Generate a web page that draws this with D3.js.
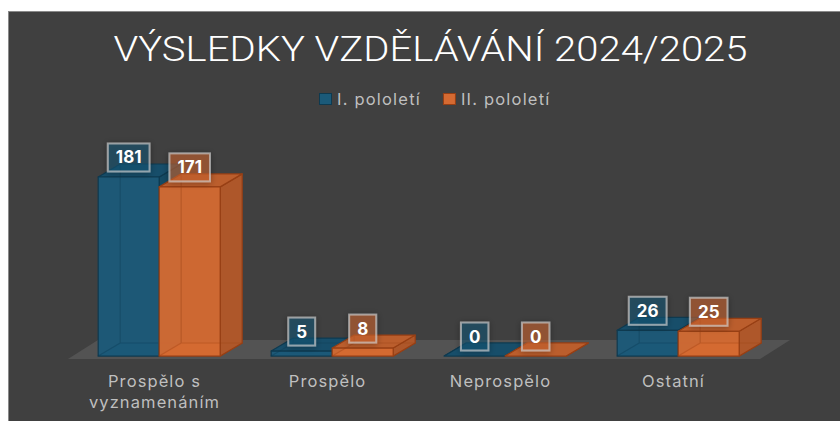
<!doctype html>
<html>
<head>
<meta charset="utf-8">
<script src="https://cdn.jsdelivr.net/npm/d3@7"></script>
<style>
html,body{margin:0;background:#fff;overflow:hidden;}
text{font-family:Inter,"Open Sans",sans-serif;}
</style>
</head>
<body>
<script>
var categories = ["Prospělo s vyznamenáním", "Prospělo", "Neprospělo", "Ostatní"];
var seriesNames = ["I. pololetí", "II. pololetí"];
var firstHalf = [181, 5, 0, 26];
var secondHalf = [171, 8, 0, 25];
var title = "VÝSLEDKY VZDĚLÁVÁNÍ 2024/2025";

var colors = [
    {front: "#1b5a79", top: "#174e6a", side: "#154a63", line: "#0e3a50", box: "#1b5a79"},
    {front: "#d56a32", top: "#bb5e2d", side: "#ae572a", line: "#973f14", box: "#d56a32"}
];

var W = 840, H = 421;
var svg = d3.select("body").append("svg").attr("width", W).attr("height", H);

// shadow filter for value boxes
var defs = svg.append("defs");
var f = defs.append("filter").attr("id", "sh").attr("x", "-50%").attr("y", "-50%").attr("width", "200%").attr("height", "200%");
f.append("feGaussianBlur").attr("in", "SourceAlpha").attr("stdDeviation", 3).attr("result", "b");
f.append("feOffset").attr("in", "b").attr("dx", 0).attr("dy", 1).attr("result", "o");
f.append("feComponentTransfer").attr("in", "o").attr("result", "o2")
    .append("feFuncA").attr("type", "linear").attr("slope", 0.5);
var fm = f.append("feMerge");
fm.append("feMergeNode").attr("in", "o2");
fm.append("feMergeNode").attr("in", "SourceGraphic");

// background
svg.append("rect").attr("x", 8.5).attr("y", 11.5).attr("width", W).attr("height", H)
    .attr("fill", "#404040").attr("stroke", "#8a8a8a").attr("stroke-width", 1);

svg.append("text")
    .attr("x", 430.5).attr("y", 61)
    .attr("text-anchor", "middle")
    .attr("fill", "#fff")
    .style("font-family", "Roboto, sans-serif")
    .style("font-size", "35px").style("font-weight", "300")
    .attr("textLength", 634).attr("lengthAdjust", "spacingAndGlyphs")
    .text(title);

// legend
var lg = svg.append("g");
var lx = 319;
seriesNames.forEach(function(name, i) {
    lg.append("rect").attr("x", lx + 0.5).attr("y", 93.5).attr("width", 12).attr("height", 11)
        .attr("fill", colors[i].front).attr("stroke", colors[i].line);
    var t = lg.append("text").attr("x", lx + 18).attr("y", 105)
        .attr("fill", "#bfbfbf").style("font-size", "16.5px").style("letter-spacing", "1.2px").text(name);
    lx += 18 + t.node().getComputedTextLength() + 22;
});

// geometry
var floorY = 359;
var floorDepth = [30, -19];
var barOff = [4.7, -3];
var barDepth = [22, -13];
var base = floorY + barOff[1];

var x0 = d3.scaleBand().domain(categories).range([68, 760]).padding(0);
var groupW = 122;
var x1 = d3.scaleBand().domain(seriesNames).range([0, groupW]).padding(0);
var y = d3.scaleLinear().domain([0, 200]).range([0, 197.8]);

// floor
var fx0 = x0.range()[0], fx1 = x0.range()[1];
svg.append("path")
    .attr("d", "M" + fx0 + "," + floorY + "L" + fx1 + "," + floorY +
        "L" + (fx1 + floorDepth[0]) + "," + (floorY + floorDepth[1]) +
        "L" + (fx0 + floorDepth[0]) + "," + (floorY + floorDepth[1]) + "Z")
    .attr("fill", "#535353");

var series = [firstHalf, secondHalf];
var bars = [];
categories.forEach(function(c, ci) {
    series.forEach(function(vals, si) {
        var xl = x0(c) + (x0.bandwidth() - groupW) / 2 + x1(seriesNames[si]) + barOff[0];
        bars.push({x: xl, w: x1.bandwidth(), h: y(vals[ci]), v: vals[ci], s: si});
    });
});

function poly(pts) { return "M" + pts.map(function(p) { return p.join(","); }).join("L") + "Z"; }

var bg = svg.append("g");
bars.forEach(function(b) {
    var col = colors[b.s];
    var top = base - b.h, dx = barDepth[0], dy = barDepth[1];
    var g = bg.append("g").attr("stroke", col.line).attr("stroke-width", 1.2).attr("stroke-linejoin", "round");
    g.append("path").attr("d", poly([[b.x, base], [b.x + dx, base + dy], [b.x + b.w + dx, base + dy], [b.x + b.w, base]]))
        .attr("fill", col.top);
    g.append("path").attr("d", poly([[b.x + b.w, top], [b.x + b.w + dx, top + dy], [b.x + b.w + dx, base + dy], [b.x + b.w, base]]))
        .attr("fill", col.side);
    g.append("path").attr("d", poly([[b.x, top], [b.x + dx, top + dy], [b.x + b.w + dx, top + dy], [b.x + b.w, top]]))
        .attr("fill", col.top);
    if (b.h > 0) {
        g.append("rect").attr("x", b.x).attr("y", top).attr("width", b.w).attr("height", b.h)
            .attr("fill", col.front).attr("fill-opacity", 0.95);
        // back edges seen through the translucent front
        g.append("path").attr("d", "M" + (b.x + dx) + "," + (top + dy) + "V" + (base + dy) + "H" + (b.x + b.w + dx) +
                "M" + (b.x + dx) + "," + (base + dy) + "L" + b.x + "," + base)
            .attr("fill", "none").attr("stroke-opacity", 0.35);
    }
});

// value labels
var lblG = svg.append("g");
bars.forEach(function(b) {
    var col = colors[b.s];
    var cx = b.x + b.w / 2, cy = base - b.h - 19.5;
    var g = lblG.append("g").attr("transform", "translate(" + cx + "," + cy + ")");
    var r = g.append("rect").attr("filter", "url(#sh)");
    var t = g.append("text").attr("text-anchor", "middle").attr("y", 6)
        .attr("fill", "#fff").style("font-size", "17px").style("font-weight", "700")
        .text(b.v);
    var tw = t.node().getComputedTextLength() + 16;
    r.attr("x", -tw / 2).attr("y", -14).attr("width", tw).attr("height", 28)
        .attr("fill", col.box).attr("fill-opacity", 0.5)
        .attr("stroke", "#d0d0d0").attr("stroke-opacity", 0.65).attr("stroke-width", 2);
});

// category labels
var catG = svg.append("g");
categories.forEach(function(c) {
    var cx = x0(c) + x0.bandwidth() / 2;
    var t = catG.append("text").attr("text-anchor", "middle")
        .attr("x", cx).attr("y", 387)
        .attr("fill", "#bfbfbf").style("font-size", "16.5px").style("letter-spacing", "1.1px");
    var words = c.split(" "), line = [];
    var ts = t.append("tspan").attr("x", cx).attr("dy", 0);
    words.forEach(function(w) {
        line.push(w);
        ts.text(line.join(" "));
        if (ts.node().getComputedTextLength() > 135 && line.length > 1) {
            line.pop();
            ts.text(line.join(" "));
            line = [w];
            ts = t.append("tspan").attr("x", cx).attr("dy", 21).text(w);
        }
    });
});
</script>
</body>
</html>
